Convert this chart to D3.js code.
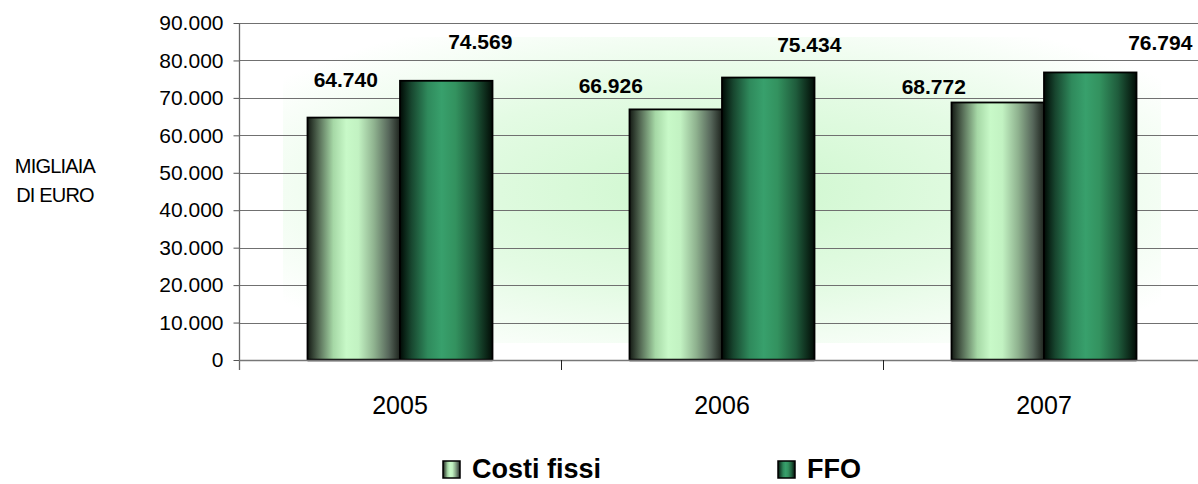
<!DOCTYPE html>
<html>
<head>
<meta charset="utf-8">
<script src="https://cdn.jsdelivr.net/npm/d3@7"></script>
<style>
  html, body { margin: 0; padding: 0; background: #fff; }
  svg { display: block; font-family: Arial, "Liberation Sans", sans-serif; }
</style>
</head>
<body>
<svg id="chart" width="1198" height="484"></svg>
<script>
// ---- data ----
const categories = ["2005", "2006", "2007"];
const seriesNames = ["Costi fissi", "FFO"];
const costiFissi = [64740, 66926, 68772];
const ffo = [74569, 75434, 76794];
const yTicks = [0, 10000, 20000, 30000, 40000, 50000, 60000, 70000, 80000, 90000];
const yTitle = ["MIGLIAIA", "DI EURO"];

// ---- layout (manual label placement, as in the original) ----
const costiLabelShift = [[-8, -38], [-65, -24], [-64, -16]];
const ffoLabelShift = [[34, -39], [41, -33], [70, -30]];

const svg = d3.select("#chart");
const plot = { left: 239, right: 1205, top: 23, bottom: 360 };

const it = d3.formatLocale({ decimal: ",", thousands: ".", grouping: [3], currency: ["", " €"] });
const fmt = it.format(",d");

const x = d3.scaleBand().domain(categories).range([plot.left, plot.right]).padding(0);
const y = d3.scaleLinear().domain([0, 90000]).range([plot.bottom, plot.top]);

const defs = svg.append("defs");
// background gradient
const bg = defs.append("radialGradient").attr("id", "bgGrad")
  .attr("cx", 0.5).attr("cy", 0.5).attr("r", 0.62);
bg.append("stop").attr("offset", 0).attr("stop-color", "#cdf7cd");
bg.append("stop").attr("offset", 0.55).attr("stop-color", "#e4fbe4");
bg.append("stop").attr("offset", 1).attr("stop-color", "#ffffff");

// bar gradients
const g1 = defs.append("linearGradient").attr("id", "gCosti").attr("x1", 0).attr("x2", 1).attr("y1", 0).attr("y2", 0);
[[0, "#141a14"], [0.12, "#566c56"], [0.28, "#a6d8a6"], [0.42, "#c8f9c8"], [0.55, "#c2f2c2"], [0.72, "#8fb28f"], [0.88, "#56665a"], [1, "#1e241e"]]
  .forEach(s => g1.append("stop").attr("offset", s[0]).attr("stop-color", s[1]));
const g2 = defs.append("linearGradient").attr("id", "gFFO").attr("x1", 0).attr("x2", 1).attr("y1", 0).attr("y2", 0);
[[0, "#000a05"], [0.12, "#17452e"], [0.3, "#2f8a5c"], [0.45, "#38a06c"], [0.6, "#33925f"], [0.8, "#1f5c3c"], [1, "#020c06"]]
  .forEach(s => g2.append("stop").attr("offset", s[0]).attr("stop-color", s[1]));

// background rectangle
svg.append("rect")
  .attr("x", plot.left + 44).attr("y", plot.top + 14)
  .attr("width", (plot.right - 44) - (plot.left + 44))
  .attr("height", (plot.bottom - 17) - (plot.top + 14))
  .attr("fill", "url(#bgGrad)");

// gridlines
svg.append("g").selectAll("line").data(yTicks.filter(d => d > 0)).join("line")
  .attr("x1", plot.left).attr("x2", plot.right)
  .attr("y1", d => Math.round(y(d)) + 0.5).attr("y2", d => Math.round(y(d)) + 0.5)
  .attr("stroke", "#707070").attr("stroke-width", 1);

// y axis
const yAxis = svg.append("g").attr("transform", `translate(${plot.left + 0.5},0)`)
  .call(d3.axisLeft(y).tickValues(yTicks).tickFormat(fmt).tickSize(6).tickPadding(10));
yAxis.select(".domain").remove();
yAxis.selectAll(".tick line").attr("stroke", "#555");
yAxis.selectAll(".tick text").attr("font-size", 21).attr("fill", "#000")
  .attr("font-family", "Arial, 'Liberation Sans', sans-serif");
svg.append("line").attr("x1", plot.left + 0.5).attr("x2", plot.left + 0.5)
  .attr("y1", plot.top).attr("y2", plot.bottom + 10).attr("stroke", "#666").attr("stroke-width", 1.3);

// bars
const groupHalf = 92.5;
const inner = d3.scaleBand().domain(seriesNames).range([0, groupHalf * 2]).padding(0);
const series = [
  { name: "Costi fissi", values: costiFissi, fill: "url(#gCosti)", shift: costiLabelShift },
  { name: "FFO", values: ffo, fill: "url(#gFFO)", shift: ffoLabelShift }
];
const barsG = svg.append("g");
series.forEach(s => {
  barsG.selectAll(null).data(categories).join("rect")
    .attr("x", (c) => x(c) + x.bandwidth() / 2 - groupHalf + inner(s.name))
    .attr("y", (c, i) => y(s.values[i]))
    .attr("width", inner.bandwidth())
    .attr("height", (c, i) => y(0) - y(s.values[i]))
    .attr("fill", s.fill)
    .attr("stroke", "#000").attr("stroke-width", 1.8);
});

// x axis line and ticks
svg.append("line").attr("x1", plot.left).attr("x2", plot.right)
  .attr("y1", plot.bottom + 0.5).attr("y2", plot.bottom + 0.5)
  .attr("stroke", "#777").attr("stroke-width", 1.6);
// redraw bar bottoms black over the axis
series.forEach(s => {
  barsG.selectAll(null).data(categories).join("line")
    .attr("x1", c => x(c) + x.bandwidth() / 2 - groupHalf + inner(s.name))
    .attr("x2", c => x(c) + x.bandwidth() / 2 - groupHalf + inner(s.name) + inner.bandwidth())
    .attr("y1", plot.bottom).attr("y2", plot.bottom)
    .attr("stroke", "#000").attr("stroke-width", 2.4);
});
svg.append("g").selectAll("line").data(categories.slice(1).concat(["end"])).join("line")
  .attr("x1", (c, i) => Math.round(plot.left + x.step() * (i + 1)) + 0.5)
  .attr("x2", (c, i) => Math.round(plot.left + x.step() * (i + 1)) + 0.5)
  .attr("y1", plot.bottom).attr("y2", plot.bottom + 10)
  .attr("stroke", "#222").attr("stroke-width", 1);

// x labels
svg.append("g").selectAll("text").data(categories).join("text")
  .attr("x", c => x(c) + x.bandwidth() / 2)
  .attr("y", 414)
  .attr("text-anchor", "middle").attr("font-size", 25).attr("fill", "#000")
  .text(c => c);

// value labels
series.forEach(s => {
  svg.append("g").selectAll("text").data(categories).join("text")
    .attr("x", (c, i) => x(c) + x.bandwidth() / 2 - groupHalf + inner(s.name) + inner.bandwidth() / 2 + s.shift[i][0])
    .attr("y", (c, i) => y(s.values[i]) + s.shift[i][1])
    .attr("dy", "0.36em")
    .attr("text-anchor", "middle").attr("font-size", 21).attr("font-weight", "bold").attr("fill", "#000")
    .text((c, i) => fmt(s.values[i]));
});

// y title
svg.append("g").selectAll("text").data(yTitle).join("text")
  .attr("x", 55).attr("y", (d, i) => 173 + i * 29)
  .attr("text-anchor", "middle").attr("font-size", 20).attr("fill", "#000")
  .attr("letter-spacing", -0.8)
  .text(d => d);

// legend
const legendX = [443, 778];
const leg = svg.append("g");
series.forEach((s, i) => {
  leg.append("rect").attr("x", legendX[i]).attr("y", 461).attr("width", 17).attr("height", 17)
    .attr("fill", s.fill).attr("stroke", "#000").attr("stroke-width", 1.5);
  leg.append("text").attr("x", legendX[i] + 29).attr("y", 478)
    .attr("font-size", 27).attr("font-weight", "bold").attr("fill", "#000")
    .text(s.name);
});
</script>
</body>
</html>
